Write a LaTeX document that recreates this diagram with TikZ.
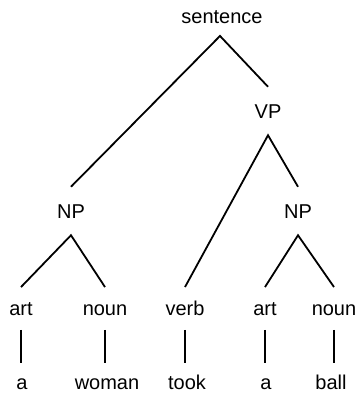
\documentclass[tikz,border=0pt]{standalone}
\usepackage{fontspec}
\setmainfont{Liberation Sans}
\begin{document}
\begin{tikzpicture}[x=1pt,y=-1pt,
  lbl/.style={inner sep=0pt, text height=14.3pt, text depth=0pt, font=\fontsize{20}{23}\selectfont},
  top/.style={lbl, outer xsep=0pt, outer ysep=12.8pt},
  phr/.style={lbl, outer xsep=0pt, outer ysep=17.1pt},
  leaf/.style={lbl, outer xsep=0pt, outer ysep=13.8pt},
  word/.style={lbl, outer xsep=0pt, outer ysep=11.8pt},
  edge/.style={line width=1.8pt, line cap=butt},
  stem/.style={edge, shorten <=1pt}]
\useasboundingbox (0,0) rectangle (357,393);
\node[top]  (s)   at (222,16)  {sentence};
\node[phr]  (vp)  at (268,111) {VP};
\node[phr]  (np1) at (71,211)  {NP};
\node[phr]  (np2) at (298,211) {NP};
\node[leaf] (art1)  at (21,308)  {art};
\node[leaf] (noun1) at (105,308) {noun};
\node[leaf] (verb)  at (185,308) {verb};
\node[leaf] (art2)  at (265,308) {art};
\node[leaf] (noun2) at (334,308) {noun};
\node[word] (a1)    at (22,382)  {a};
\node[word] (woman) at (107,382) {woman};
\node[word] (took)  at (187,382) {took};
\node[word] (a2)    at (266,382) {a};
\node[word] (ball)  at (331,382) {ball};
\draw[edge] (np1.north) -- ([xshift=-2pt]s.south) -- (vp.north);
\draw[edge] (verb.north) -- (vp.south) -- (np2.north);
\draw[edge] (art1.north) -- (np1.south) -- (noun1.north);
\draw[edge] (art2.north) -- (np2.south) -- (noun2.north);
\draw[stem] (art1.south) -- (art1.south |- a1.north);
\draw[stem] (noun1.south) -- (noun1.south |- woman.north);
\draw[stem] (verb.south) -- (verb.south |- took.north);
\draw[stem] (art2.south) -- (art2.south |- a2.north);
\draw[stem] (noun2.south) -- (noun2.south |- ball.north);
\end{tikzpicture}
\end{document}
